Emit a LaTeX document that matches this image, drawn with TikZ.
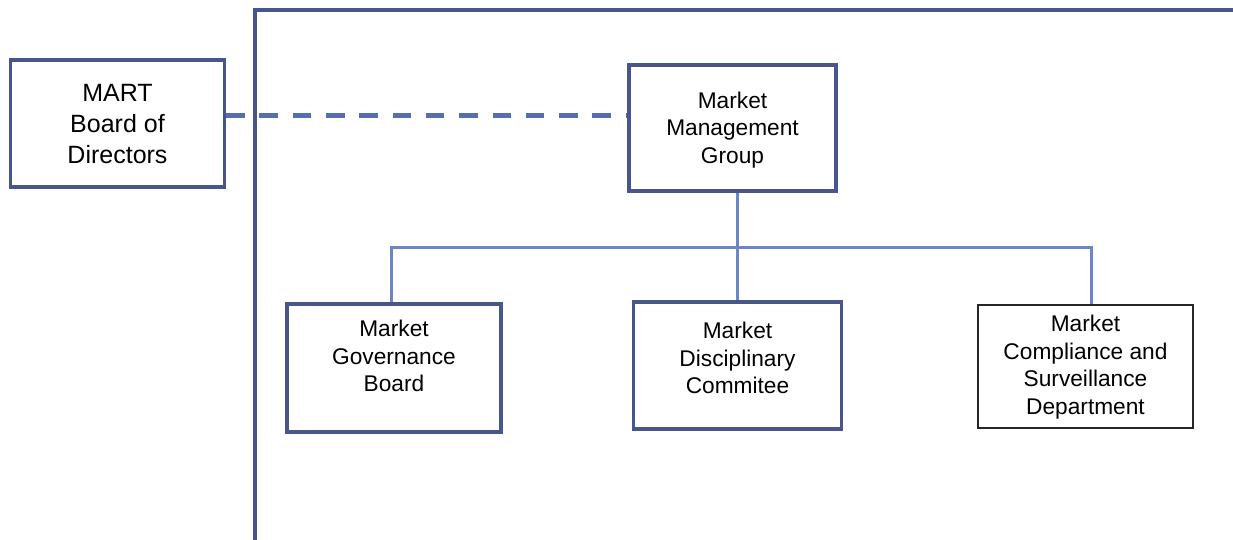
\documentclass[tikz,border=0pt]{standalone}
\usepackage{fontspec}
\setmainfont{Liberation Sans}
\begin{document}
\begin{tikzpicture}[x=1pt,y=-1pt,
  framecol/.style={draw={rgb,255:red,72;green,86;blue,140}},
  orgbox/.style={framecol, line width=3.2pt, rectangle, inner sep=0pt, fill=white},
  plainbox/.style={draw=black!85, line width=1.5pt, rectangle, inner sep=0pt, fill=white},
  boxtext/.style={align=center, inner sep=0pt, font=\fontsize{22.7}{27.5}\selectfont, text=black},
  bigtext/.style={align=center, inner sep=0pt, font=\fontsize{25}{31}\selectfont, text=black},
  link/.style={draw={rgb,255:red,108;green,133;blue,198}, line width=3pt},
  dotted link/.style={draw={rgb,255:red,88;green,108;blue,176}, line width=5pt, dash pattern=on 18.5pt off 14.8pt},
  frameline/.style={framecol, line width=3.2pt}
]
\useasboundingbox (0,0) rectangle (1233,539);

% outer frame: left rule and top rule
\coordinate (frameB) at (255,540);
\coordinate (frameT) at (255,10);
\coordinate (frameR) at (1234,10);
\draw[frameline] (frameB) -- (frameT) -- (frameR);

% boxes
\node[orgbox, minimum width=214pt, minimum height=127pt] (mart) at (117.5,123.5) {};
\node[bigtext] (marttxt) at (117.5,124) {MART\\Board of\\Directors};

\node[orgbox, minimum width=207pt, minimum height=126pt] (mmg) at (732.5,128) {};
\node[boxtext] (mmgtxt) at (732.5,130) {Market\\Management\\Group};

\node[orgbox, minimum width=214pt, minimum height=128pt] (gov) at (394,368) {};
\node[boxtext] (govtxt) at (394,356) {Market\\Governance\\Board};

\node[orgbox, minimum width=208pt, minimum height=127pt] (disc) at (737.5,365.5) {};
\node[boxtext] (disctxt) at (737.5,358) {Market\\Disciplinary\\Commitee};

\node[plainbox, minimum width=215pt, minimum height=123pt] (comp) at (1085.5,366.5) {};
\node[boxtext] (comptxt) at (1085.5,367) {Market\\Compliance and\\Surveillance\\Department};

% dashed advisory link
\coordinate (dashy) at (0,115);
\draw[dotted link] (mart.east |- dashy) -- (mmg.west |- dashy);

% reporting lines
\coordinate (busL) at (391,247);
\coordinate (busR) at (1091,247);
\draw[link] (disc.north) -- (disc.north |- mmg.south);
\draw[link] (busL |- gov.north) -- (busL) -- (busR) -- (busR |- comp.north);
\end{tikzpicture}
\end{document}
